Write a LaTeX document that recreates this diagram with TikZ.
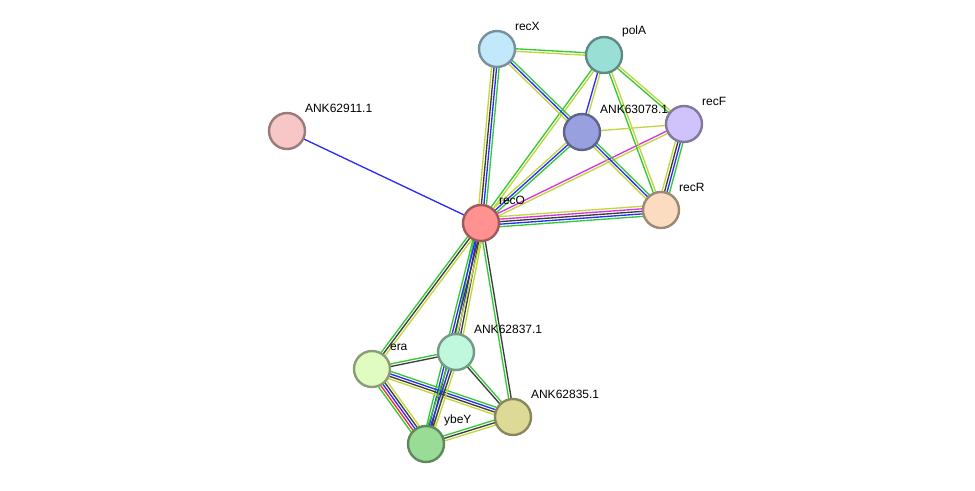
\documentclass[tikz,border=0pt]{standalone}
\usepackage{fontspec}
\setmainfont{Liberation Sans}
\usetikzlibrary{calc,backgrounds}
% edge colours
\definecolor{egreen}{HTML}{34C834}
\definecolor{eblue}{HTML}{2C2CF4}
\definecolor{eblack}{HTML}{3C3C3C}
\definecolor{eyellow}{HTML}{C2D63C}
\definecolor{emagenta}{HTML}{D834D8}
\definecolor{ered}{HTML}{F42C2C}
% node colours
\definecolor{cRecO}{HTML}{FF9191}
\definecolor{cOrphan}{HTML}{F7C6C6}
\definecolor{cRecX}{HTML}{C2E8FB}
\definecolor{cPolA}{HTML}{99DFD5}
\definecolor{cRuvB}{HTML}{98A0DF}
\definecolor{cRecF}{HTML}{D0C2FA}
\definecolor{cRecR}{HTML}{FBDCC0}
\definecolor{cSeven}{HTML}{BFF8DC}
\definecolor{cEra}{HTML}{E1FCC1}
\definecolor{cFive}{HTML}{DDDA97}
\definecolor{cYbeY}{HTML}{99DC96}
% parallel coloured lines between two nodes
\newcommand{\lnk}[3]{%
  \foreach \off/\col in {#3}
    \draw[wire, \col] ($(#1.center)!\off*1.9pt!90:(#2.center)$) -- ($(#2.center)!\off*1.9pt!-90:(#1.center)$);
}

\begin{document}
\begin{tikzpicture}[
    x=0.75pt, y=-0.75pt,
    label distance=3.5pt,
    every node/.style={circle, draw, line width=1.8pt,
                       minimum size=27pt, inner sep=0pt},
    every label/.style={draw=none, rectangle, minimum size=0pt,
                        inner sep=0pt, font=\fontsize{9}{11}\selectfont},
    prot/.style={fill=#1, draw=#1!62!black},
    wire/.style={line width=1pt}
]
\useasboundingbox (0,0) rectangle (975,490);

\node[prot=cRecO,   label=45:recO]       (recO)  at (481,223) {};
\node[prot=cOrphan, label=45:ANK62911.1] (a911)  at (287,131) {};
\node[prot=cRecX,   label=45:recX]       (recX)  at (497,49)  {};
\node[prot=cPolA,   label=45:polA]       (polA)  at (604,55)  {};
\node[prot=cRuvB,   label=45:ANK63078.1] (a078)  at (582,132) {};
\node[prot=cRecF,   label=45:recF]       (recF)  at (684,124) {};
\node[prot=cRecR,   label=45:recR]       (recR)  at (661,210) {};
\node[prot=cSeven,  label=45:ANK62837.1] (a837)  at (456,352) {};
\node[prot=cEra,    label=45:era]        (era)   at (372,369) {};
\node[prot=cFive,   label=45:ANK62835.1] (a835)  at (513,417) {};
\node[prot=cYbeY,   label=45:ybeY]       (ybeY)  at (426,444) {};

\begin{scope}[on background layer]
  \lnk{recO}{a911}{0/eblue}
  \lnk{recO}{recX}{-1.5/egreen,-0.5/eblue,0.5/eblack,1.5/eyellow}
  \lnk{recO}{polA}{-0.5/eyellow,0.5/egreen}
  \lnk{recO}{a078}{-1/egreen,0/eblue,1/eyellow}
  \lnk{recO}{recF}{-0.5/eyellow,0.5/emagenta}
  \lnk{recO}{recR}{2/eyellow,1/emagenta,0/eblack,-1/eblue,-2/egreen}
  \lnk{recO}{era}{-1/egreen,0/eblack,1/eyellow}
  \lnk{recO}{a837}{-1.5/egreen,-0.5/eblue,0.5/eblack,1.5/eyellow}
  \lnk{recO}{ybeY}{-1.5/egreen,-0.5/eblue,0.5/eblack,1.5/eyellow}
  \lnk{recO}{a835}{-0.5/egreen,0.5/eblack}
  \lnk{recX}{polA}{-0.5/eyellow,0.5/egreen}
  \lnk{recX}{a078}{-1/eyellow,0/eblue,1/egreen}
  \lnk{polA}{a078}{-0.5/eblue,0.5/eyellow}
  \lnk{polA}{recF}{-0.5/egreen,0.5/eyellow}
  \lnk{polA}{recR}{-0.5/egreen,0.5/eyellow}
  \lnk{a078}{recF}{0/eyellow}
  \lnk{a078}{recR}{-1/eyellow,0/eblue,1/egreen}
  \lnk{recF}{recR}{-1.5/eyellow,-0.5/eblack,0.5/eblue,1.5/egreen}
  \lnk{era}{a837}{-0.5/eblack,0.5/egreen}
  \lnk{era}{a835}{-1.5/eyellow,-0.5/eblack,0.5/eblue,1.5/egreen}
  \lnk{era}{ybeY}{-2/egreen,-1/ered,0/eblue,1/eblack,2/eyellow}
  \lnk{a837}{a835}{-0.5/eblack,0.5/egreen}
  \lnk{a837}{ybeY}{-1.5/egreen,-0.5/eblue,0.5/eblack,1.5/eyellow}
  \lnk{ybeY}{a835}{-1/eyellow,0/eblack,1/egreen}
\end{scope}
\end{tikzpicture}
\end{document}
